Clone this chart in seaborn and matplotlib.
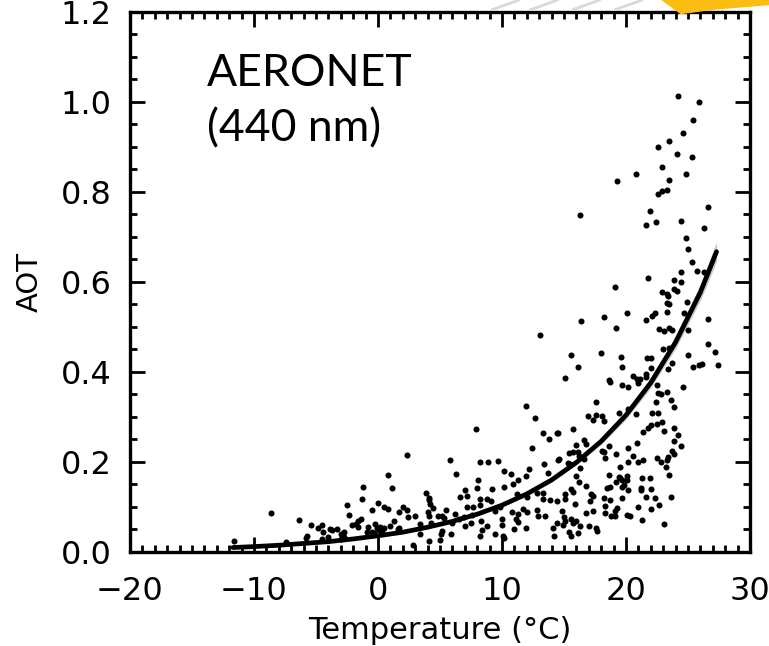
import matplotlib
matplotlib.use("Agg")
import matplotlib.pyplot as plt
from matplotlib.ticker import MultipleLocator
from matplotlib.patches import Polygon
import numpy as np
import pandas as pd
import seaborn as sns

# AERONET 440 nm aerosol optical thickness against surface temperature
temp_c = [
    24.2, 25.9, 25.4, 24.6, 23.5, 22.6, 24.1, 25.3, 22.9, 20.8, 24.8, 19.3, 23.5,
    22.9, 23.3, 22.6, 16.3, 21.9, 26.6, 21.6, 22.4, 24.4, 26.3, 24.8, 25.0,
    25.3, 25.7, 26.3, 24.4, 21.8, 23.9, 24.4, 19.1, 23.9, 24.1, 22.9, 23.3, 23.4,
    24.9, 23.3, 23.5, 20.1, 22.3, 22.1, 23.3, 24.7, 18.2, 16.4, 21.6, 26.6, 19.2,
    22.7, 23.1, 23.5, 23.7, 25.0, 13.1, 26.6, 23.0, 23.5, 27.2, 15.6, 18.0, 19.6,
    25.0, 21.7, 22.0, 23.7, 26.1, 25.9, 27.4, 16.1, 19.7, 22.0, 25.4, 23.4, 15.1,
    18.6, 18.7, 20.6, 20.9, 21.1, 21.6, 21.6, 19.7, 20.2, 21.0, 22.5, 24.6,
    22.6, 23.3, 22.8, 23.6, 22.4, 17.6, 23.9, 22.1, 22.6, 19.4, 16.9, 17.6, 18.1,
    18.2, 17.3, 20.8, 20.2, 21.4, 22.0, 22.5, 22.9, 21.8, 23.1, 23.9, 24.2, 23.9,
    24.4, 23.7, 23.9, 23.4, 23.3, 22.5, 22.8, 23.2, 23.5, 23.6, 23.1, 22.7, 22.0,
    21.3, 21.0, 22.3, 21.6, 22.0, 21.2, 21.2, 21.9, 21.3, 21.4, 21.0, 20.6, 20.2,
    20.9, 20.2, 19.5, 19.2, 18.6, 18.3, 18.1, 18.2, 18.6, 19.4, 19.5, 19.7, 20.1,
    20.1, 19.2, 19.8, 20.2, 19.7, 18.7, 18.5, 19.7, 18.2, 18.7, 18.3, 19.3, 18.3,
    18.8, 19.1, 20.1, 20.3, 19.1, 17.3, 16.8, 17.6, 17.7, 17.0, 17.2, 17.3, 17.1,
    16.8, 16.2, 15.9, 16.3, 16.0, 15.6, 15.7, 16.1, 15.6, 15.4, 14.9, 15.1, 15.0,
    14.8, 15.1, 15.1, 15.6, 15.7, 16.0, 15.3, 15.5, 16.3, 16.6, 15.7, 16.1, 16.2,
    15.4, 16.0, 16.6, 16.8, 15.7, 14.5, 14.6,
    11.9, 12.7, 7.9, 13.3, 14.4, 13.8, 12.4, 2.3, 5.8, 8.2, 8.9, 9.7, 14.5, 13.4,
    12.2, 10.2, 10.7, 6.3, 11.9, 13.7, 8.1, 11.3, 10.9, 1.1, 8.0, 9.2, 10.2, 7.0,
    3.9, 7.2, 6.6, 11.2, 12.8, 13.3, 4.1, 4.1, 8.2, 8.8, 9.1, 12.0, 13.3, 13.9,
    14.4, 4.2, 4.4, 7.7, 7.2, 8.2, 9.8, 2.0, 2.3, 5.5, 4.8, 5.2, 5.3, 6.2, 6.5,
    6.9, 7.6, 6.0, 7.0, 7.5, 8.3, 10.8, 11.3, 11.7, 12.0, 12.8, 13.5, 12.9, 11.1,
    11.3, 10.0, 9.4, 11.9, 11.0, 10.0, 8.8, 8.4, 8.2, 9.4, 10.1, 10.2, 5.9, 5.2,
    5.1, 5.0, 4.1, 2.8, 3.4, 1.3, 1.7, 2.4, 3.0, 3.4, 1.0, 1.7, 14.1, 14.2, 14.4,
    4.0, 4.1, 4.3,
    -8.6, -11.6, -6.4, -5.4, -5.7, -5.8, -7.4, -4.8, -4.5, -4.4, -4.5, -3.9, -3.7,
    -3.3, -4.0, -3.0, -2.7, -3.0, -2.7, -2.5, -2.3, -2.1, -1.8, -1.6, -1.4, -1.6,
    -1.2, -1.3, -0.5, -0.8, -0.9, -0.5, -0.3, 0.0, 0.5, 0.8, 0.8, -0.2, -0.1, 0.2,
    0.5, 0.1, 0.3, 1.6,
]
aot_440 = [
    1.012, 0.999, 0.960, 0.931, 0.912, 0.899, 0.884, 0.878, 0.856, 0.839, 0.840,
    0.824, 0.827, 0.802, 0.803, 0.794, 0.748, 0.758, 0.766, 0.727, 0.734, 0.736,
    0.719, 0.698, 0.674,
    0.644, 0.624, 0.621, 0.621, 0.609, 0.605, 0.599, 0.588, 0.584, 0.580, 0.578,
    0.573, 0.568, 0.556, 0.554, 0.550, 0.530, 0.530, 0.525, 0.534, 0.531, 0.522,
    0.513, 0.515, 0.517, 0.497, 0.496, 0.491, 0.497, 0.493, 0.493, 0.481, 0.463,
    0.451, 0.452, 0.444, 0.437, 0.442, 0.434, 0.438, 0.430, 0.430, 0.420, 0.417,
    0.416, 0.415, 0.410, 0.411, 0.409, 0.411, 0.407, 0.386, 0.383, 0.377, 0.390,
    0.385, 0.384, 0.395, 0.388, 0.371, 0.367, 0.375, 0.370, 0.367,
    0.353, 0.355, 0.350, 0.338, 0.334, 0.334, 0.321, 0.308, 0.308, 0.308, 0.301,
    0.304, 0.302, 0.291, 0.293, 0.307, 0.317, 0.267, 0.282, 0.284, 0.288, 0.275,
    0.269, 0.276, 0.260, 0.247, 0.236, 0.225, 0.217, 0.210, 0.205, 0.208, 0.200,
    0.188, 0.172, 0.122, 0.062, 0.105, 0.095, 0.071, 0.099, 0.121, 0.123, 0.140,
    0.143, 0.138, 0.165, 0.164, 0.205, 0.200, 0.213, 0.232, 0.243, 0.201, 0.189,
    0.217, 0.235, 0.208, 0.225, 0.221, 0.170, 0.167, 0.164, 0.161, 0.168, 0.161,
    0.155, 0.149, 0.138, 0.145, 0.144, 0.142, 0.119, 0.120, 0.115, 0.103, 0.097,
    0.086, 0.080, 0.080, 0.082, 0.081, 0.091, 0.090, 0.086, 0.054, 0.047, 0.058,
    0.128, 0.124, 0.114, 0.146, 0.155, 0.106, 0.058, 0.068, 0.074, 0.064, 0.042,
    0.036, 0.044, 0.060, 0.068, 0.077, 0.092, 0.117, 0.128, 0.139, 0.134, 0.169,
    0.197, 0.195, 0.187, 0.206, 0.222, 0.221, 0.214, 0.219, 0.238, 0.249, 0.239,
    0.273, 0.265, 0.206,
    0.325, 0.298, 0.274, 0.265, 0.265, 0.252, 0.232, 0.215, 0.205, 0.199, 0.199,
    0.202, 0.205, 0.196, 0.185, 0.179, 0.174, 0.173, 0.169, 0.175, 0.159, 0.159,
    0.152, 0.143, 0.143, 0.141, 0.144, 0.137, 0.132, 0.124, 0.123, 0.128, 0.130,
    0.132, 0.121, 0.116, 0.118, 0.118, 0.113, 0.123, 0.118, 0.115, 0.114, 0.107,
    0.098, 0.101, 0.099, 0.104, 0.100, 0.099, 0.093, 0.094, 0.080, 0.079, 0.075,
    0.084, 0.074, 0.078, 0.082, 0.065, 0.058, 0.065, 0.069, 0.089, 0.085, 0.095,
    0.088, 0.094, 0.079, 0.079, 0.073, 0.067, 0.073, 0.091, 0.054, 0.050, 0.060,
    0.058, 0.049, 0.036, 0.040, 0.035, 0.031, 0.039, 0.046, 0.039, 0.027, 0.024,
    0.016, 0.039, 0.068, 0.054, 0.077, 0.080, 0.062, 0.058, 0.088, 0.053, 0.036,
    0.064, 0.088, 0.079, 0.065,
    0.086, 0.024, 0.072, 0.060, 0.036, 0.032, 0.022, 0.054, 0.061, 0.044, 0.029,
    0.050, 0.048, 0.050, 0.033, 0.039, 0.034, 0.029, 0.044, 0.104, 0.083, 0.059,
    0.062, 0.069, 0.073, 0.056, 0.144, 0.118, 0.094, 0.056, 0.044, 0.045, 0.042,
    0.108, 0.099, 0.095, 0.171, 0.062, 0.054, 0.056, 0.053, 0.049, 0.044, 0.051,
]

# Exponential fit curve and its confidence half-width
fit_temp = [-11.7, -10, -8, -6, -4, -2, 0, 2, 4, 6, 8, 10, 12, 14, 16, 18, 20,
            22, 24, 26, 27.3]
fit_aot = [0.010, 0.012, 0.015, 0.019, 0.023, 0.029, 0.036, 0.044, 0.055,
           0.068, 0.084, 0.104, 0.129, 0.160, 0.199, 0.246, 0.304, 0.376,
           0.466, 0.577, 0.667]
fit_ci = [0.002, 0.002, 0.002, 0.002, 0.002, 0.002, 0.003, 0.003, 0.003,
          0.003, 0.004, 0.004, 0.005, 0.005, 0.006, 0.007, 0.009, 0.011,
          0.014, 0.018, 0.022]

x_ticks = [-20, -10, 0, 10, 20, 30]
y_ticks = [0.0, 0.2, 0.4, 0.6, 0.8, 1.0, 1.2]

obs = pd.DataFrame({"temp": temp_c, "aot": aot_440})
fit = pd.DataFrame({"temp": fit_temp, "aot": fit_aot, "ci": fit_ci})

sns.set_theme(style="white")
plt.rcParams["font.family"] = ["DejaVu Sans"]

fig = plt.figure(figsize=(7.69, 6.46), dpi=100)
ax = fig.add_axes([0.169, 0.1455, 0.8063, 0.8364])

ax.fill_between(fit["temp"], fit["aot"] - fit["ci"], fit["aot"] + fit["ci"],
                color="#bdbdbd", alpha=0.85, linewidth=0, zorder=2)
sns.lineplot(data=fit, x="temp", y="aot", ax=ax, color="black",
             linewidth=3.4, zorder=3)
sns.scatterplot(data=obs, x="temp", y="aot", ax=ax, color="black",
                s=19, linewidth=0, zorder=4)

ax.set_xlim(-20, 30)
ax.set_ylim(0, 1.2)
ax.set_xticks(x_ticks)
ax.set_yticks(y_ticks)
ax.set_xticklabels(["\u221220", "\u221210", "0", "10", "20", "30"])
ax.set_yticklabels([f"{v:.1f}" for v in y_ticks])
ax.xaxis.set_minor_locator(MultipleLocator(1))
ax.yaxis.set_minor_locator(MultipleLocator(0.05))
ax.tick_params(which="both", direction="in", top=True, right=True,
               bottom=True, left=True, color="black", width=2.0,
               labelsize=23, labelcolor="black")
ax.tick_params(which="major", length=11)
ax.tick_params(which="minor", length=5)
ax.tick_params(axis="x", which="major", pad=17)
ax.tick_params(axis="y", which="major", pad=13)
for sp in ax.spines.values():
    sp.set_visible(True)
    sp.set_color("black")
    sp.set_linewidth(2.4)

ax.set_xlabel("Temperature (\u00b0C)", fontsize=22, labelpad=7, color="black")
ax.set_ylabel("AOT", fontsize=21, labelpad=12, color="black")

ax.text(0.124, 0.924, "AERONET\n(440 nm)", transform=ax.transAxes,
        ha="left", va="top", fontsize=32, family="Lato", color="black",
        linespacing=1.45)

# Slide ornament in the top-right corner
fig.patches.append(Polygon([[0.86, 1.0], [1.0, 1.0], [1.0, 0.992],
                            [0.93, 0.985], [0.885, 0.978]],
                           closed=True, transform=fig.transFigure,
                           facecolor="#fbbd12", edgecolor="none"))
for x0 in [0.64, 0.69, 0.745, 0.80]:
    fig.lines.append(plt.Line2D([x0, x0 + 0.035], [0.985, 1.0],
                                transform=fig.transFigure,
                                color="#d9d9d9", linewidth=2))

fig.savefig("out.png", dpi=100, facecolor="white")
